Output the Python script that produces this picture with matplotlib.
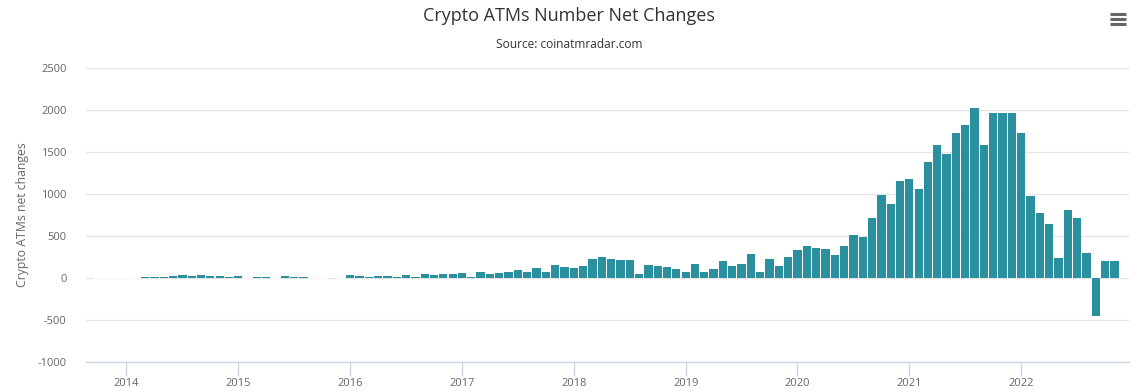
import numpy as np
import pandas as pd
import matplotlib
matplotlib.use('Agg')
import matplotlib.pyplot as plt
from matplotlib.lines import Line2D

# monthly net change of crypto ATMs, first month Oct 2013 (None = no data)
start_month = '2013-10-01'
net_changes = [
    0, 0, 0, 0, 0, 14, 14, 14, 20, 36, 24, 36,
    24, 24, 14, 24, 0, 14, 14, 0, 24, 14, 14, 0,
    0, None, 0, 36, 24, 14, 24, 24, 14, 36, 14, 48,
    36, 48, 48, 60, 14, 72, 48, 60, 72, 96, 72, 120,
    72, 156, 132, 120, 144, 228, 252, 228, 216, 216, 48, 156,
    144, 132, 108, 72, 168, 72, 108, 204, 144, 168, 288, 72,
    228, 144, 252, 336, 384, 360, 348, 276, 384, 507, 483, 710,
    986, 878, 1153, 1177, 1057, 1380, 1584, 1476, 1728, 1823, 2027, 1584,
    1967, 1967, 1967, 1728, 974, 770, 638, 243, 806, 710, 291, -451,
    207, 207,
]
y_ticks = [-1000, -500, 0, 500, 1000, 1500, 2000, 2500]

title = 'Crypto ATMs Number Net Changes'
subtitle = 'Source: coinatmradar.com'
y_title = 'Crypto ATMs net changes'

bar_color = '#2a909e'
grid_color = '#e6e6e6'
axis_color = '#ccd6eb'
label_color = '#666666'

plt.rcParams['font.family'] = ['Open Sans', 'DejaVu Sans']
plt.rcParams['axes.unicode_minus'] = False

months = pd.date_range(start_month, periods=len(net_changes), freq='MS')
idx = np.arange(len(months))
have = np.array([v is not None for v in net_changes])
vals = np.array([v if v is not None else 0 for v in net_changes], dtype=float)

fig = plt.figure(figsize=(11.38, 3.92), dpi=100)
ax = fig.add_axes([86 / 1138, 30.3 / 392, 1043 / 1138, 293.4 / 392])

ax.set_axisbelow(True)
for t in y_ticks:
    ax.axhline(t, color=grid_color, lw=1, zorder=0)

nz = have & (vals != 0)
ax.bar(idx[nz], vals[nz], width=0.89, color=bar_color, linewidth=0, zorder=2)
# zero-valued months: white border of the empty column hides the grid line
zero = have & (vals == 0)
ax.hlines(np.zeros(zero.sum()), idx[zero] - 0.5, idx[zero] + 0.5,
          color='white', lw=1.2, zorder=1)

ax.set_xlim(-1.34, 110.57)
ax.set_ylim(-1000, 2500)

# year ticks on January bars
jan = idx[months.month == 1]
ax.set_xticks(jan)
ax.set_xticklabels([str(m.year) for m in months[months.month == 1]],
                   fontsize=8, color=label_color)
ax.tick_params(axis='x', length=10, width=1, color=axis_color, pad=2)

ax.set_yticks(y_ticks)
ax.set_yticklabels([str(t) for t in y_ticks], fontsize=8, color=label_color)
ax.tick_params(axis='y', length=0, pad=14)

for s in ['top', 'right', 'left']:
    ax.spines[s].set_visible(False)
ax.spines['bottom'].set_color(axis_color)
ax.spines['bottom'].set_linewidth(1)
ax.spines['bottom'].set_zorder(3)

ax.set_ylabel(y_title, fontsize=8.8, color=label_color, labelpad=6)

fig.text(0.5, 1 - 16 / 392, title, ha='center', va='center',
         fontsize=13, color='#333333')
fig.text(0.5, 1 - 45 / 392, subtitle, ha='center', va='center',
         fontsize=8.6, color='#333333')

# menu icon
for yy in (14, 19, 24):
    fig.add_artist(Line2D([1110 / 1138, 1126 / 1138], [1 - yy / 392] * 2,
                          color=label_color, lw=2.2, solid_capstyle='butt'))

fig.savefig('out.png', dpi=100, facecolor='white')
